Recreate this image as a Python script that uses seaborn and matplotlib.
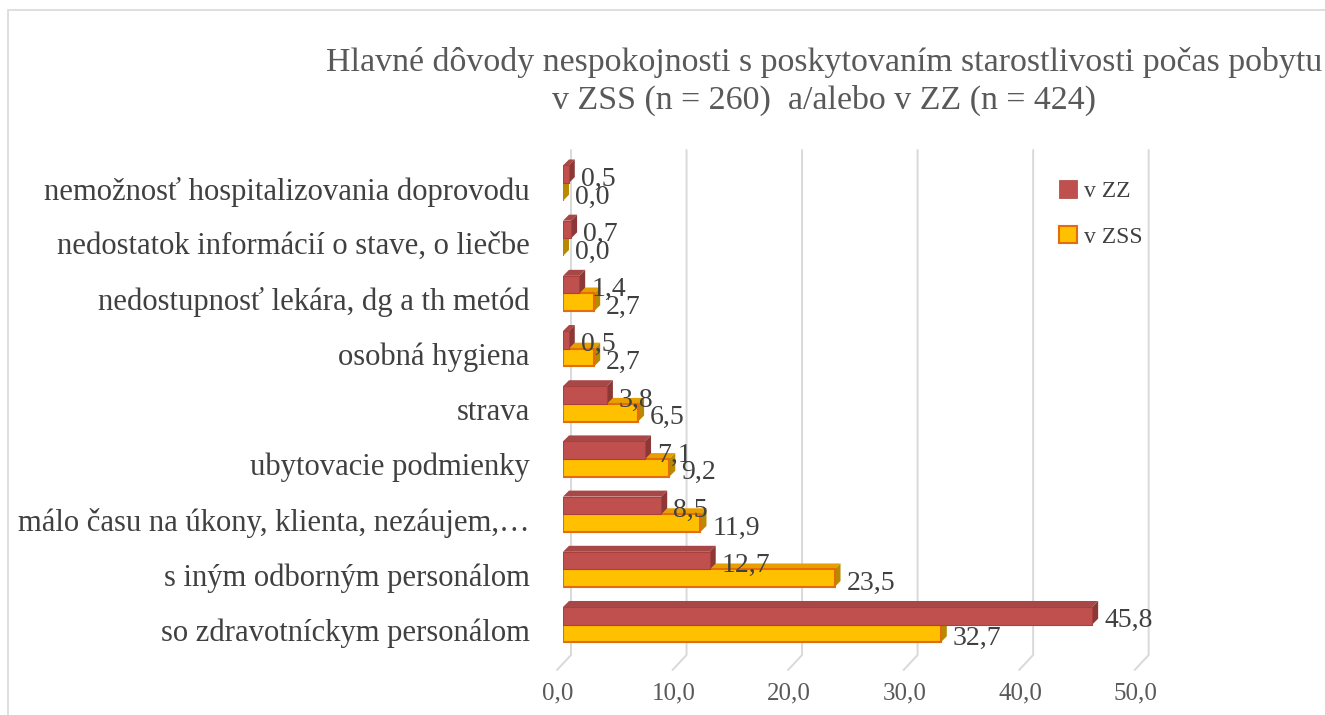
import numpy as np
import pandas as pd
import seaborn as sns
import matplotlib.pyplot as plt
import matplotlib.transforms as mtransforms
from matplotlib.patches import Polygon, Rectangle, Patch

categories = [
    "nemožnosť hospitalizovania doprovodu",
    "nedostatok informácií o stave, o liečbe",
    "nedostupnosť lekára, dg a th metód",
    "osobná hygiena",
    "strava",
    "ubytovacie podmienky",
    "málo času na úkony, klienta, nezáujem,…",
    "s iným odborným personálom",
    "so zdravotníckym personálom",
]
v_zz = [0.5, 0.7, 1.4, 0.5, 3.8, 7.1, 8.5, 12.7, 45.8]
v_zss = [0.0, 0.0, 2.7, 2.7, 6.5, 9.2, 11.9, 23.5, 32.7]
series = ["v ZZ", "v ZSS"]
x_ticks = [0, 10, 20, 30, 40, 50]

df = pd.DataFrame({
    "kategoria": categories * 2,
    "hodnota": v_zz + v_zss,
    "skupina": [series[0]] * len(categories) + [series[1]] * len(categories),
})

sns.set_style("white")
plt.rcParams["font.family"] = ["Liberation Serif", "DejaVu Serif"]

face = {"v ZZ": "#C0504D", "v ZSS": "#FFC000"}
edge = {"v ZZ": "#A8403D", "v ZSS": "#E46C0A"}
side = {"v ZZ": "#8C3836", "v ZSS": "#B88A00"}
top = {"v ZZ": "#A84846", "v ZSS": "#E8A000"}
txt = "#404040"

fig = plt.figure(figsize=(13.25, 7.15), dpi=100)
ax = fig.add_axes([563 / 1325, 1 - 655 / 715, 595 / 1325, 505 / 715])

sns.barplot(data=df, x="hodnota", y="kategoria", hue="skupina", hue_order=series,
            orient="h", width=0.64, palette=face, ax=ax, legend=False,
            saturation=1, zorder=3)

ax.set_xlim(0, 51.5)
ax.set_ylim(8.55, -0.6)
ax.set_xticks(x_ticks)
ax.set_xticklabels([f"{t:.1f}".replace(".", ",") for t in x_ticks])
ax.grid(False)
for s in ax.spines.values():
    s.set_visible(False)
ax.set_xlabel("")
ax.set_ylabel("")
ax.tick_params(axis="x", length=0, pad=20, labelsize=18, labelcolor="#595959")
ax.tick_params(axis="y", length=0, pad=24, labelsize=22.1, labelcolor=txt)
shift = mtransforms.ScaledTranslation(0, -5 / 100, fig.dpi_scale_trans)
for lab in ax.get_yticklabels():
    lab.set_transform(lab.get_transform() + shift)
for lab in ax.get_xticklabels():
    lab.set_transform(lab.get_transform() + mtransforms.ScaledTranslation(-5 / 100, 0, fig.dpi_scale_trans))

# pseudo-3D depth in pixels converted to data units
fig.canvas.draw()
p0 = ax.transData.transform((0, 0))
p1 = ax.transData.transform((1, 1))
ux = abs(p1[0] - p0[0])
uy = abs(p1[1] - p0[1])
dx = 6 / ux
dy = 6 / uy

# gridlines on the back wall with a slanted floor edge
y_top, y_bot = ax.get_ylim()[1], ax.get_ylim()[0]
for t in x_ticks:
    ax.plot([t + 8 / ux, t + 8 / ux, t - 6 / ux], [y_top, y_bot, y_bot + 15 / uy],
            color="#D9D9D9", linewidth=1.4, zorder=0, clip_on=False)

n = len(categories)
for i, bar in enumerate(ax.patches[: 2 * n]):
    grp = series[i // n]
    val = (v_zz + v_zss)[i]
    x0, y0 = bar.get_x(), bar.get_y()
    w, h = bar.get_width(), bar.get_height()
    z = 2 if grp == "v ZSS" else 4
    bar.set_edgecolor(edge[grp])
    bar.set_linewidth(1.5 if grp == "v ZSS" else 0.8)
    bar.set_zorder(z + 0.5)
    ax.add_patch(Polygon([(x0, y0), (x0 + w, y0), (x0 + w + dx, y0 - dy), (x0 + dx, y0 - dy)],
                         closed=True, facecolor=top[grp], edgecolor="none", zorder=z))
    ax.add_patch(Polygon([(x0 + w, y0), (x0 + w + dx, y0 - dy), (x0 + w + dx, y0 + h - dy), (x0 + w, y0 + h)],
                         closed=True, facecolor=side[grp], edgecolor="none", zorder=z))
    ax.annotate(f"{val:.1f}".replace(".", ","), (x0 + w, y0 + h / 2),
                xytext=(12, -5), textcoords="offset pixels", ha="left", va="center",
                fontsize=20, color=txt, zorder=6)

handles = [Patch(facecolor=face[s], edgecolor=edge[s], linewidth=1.5 if s == "v ZSS" else 0.5, label=s)
           for s in series]
fig.legend(handles=handles, loc="upper left", bbox_to_anchor=(1038 / 1325, 1 - 159 / 715),
           frameon=False, fontsize=17, labelcolor=txt, labelspacing=1.0,
           handlelength=0.75, handleheight=0.75, handletextpad=0.3)

fig.text(0.622, 1 - 62 / 715, "Hlavné dôvody nespokojnosti s poskytovaním starostlivosti počas pobytu",
         ha="center", va="center", fontsize=24.4, color="#595959")
fig.text(0.622, 1 - 100 / 715, "v ZSS (n = 260)  a/alebo v ZZ (n = 424)",
         ha="center", va="center", fontsize=24.4, color="#595959")

fig.patches.append(Rectangle((8 / 1325, -0.02), 1.0, 1 - 10 / 715 + 0.02, transform=fig.transFigure,
                             fill=False, edgecolor="#D9D9D9", linewidth=1.2))

fig.savefig("out.png", dpi=100)
